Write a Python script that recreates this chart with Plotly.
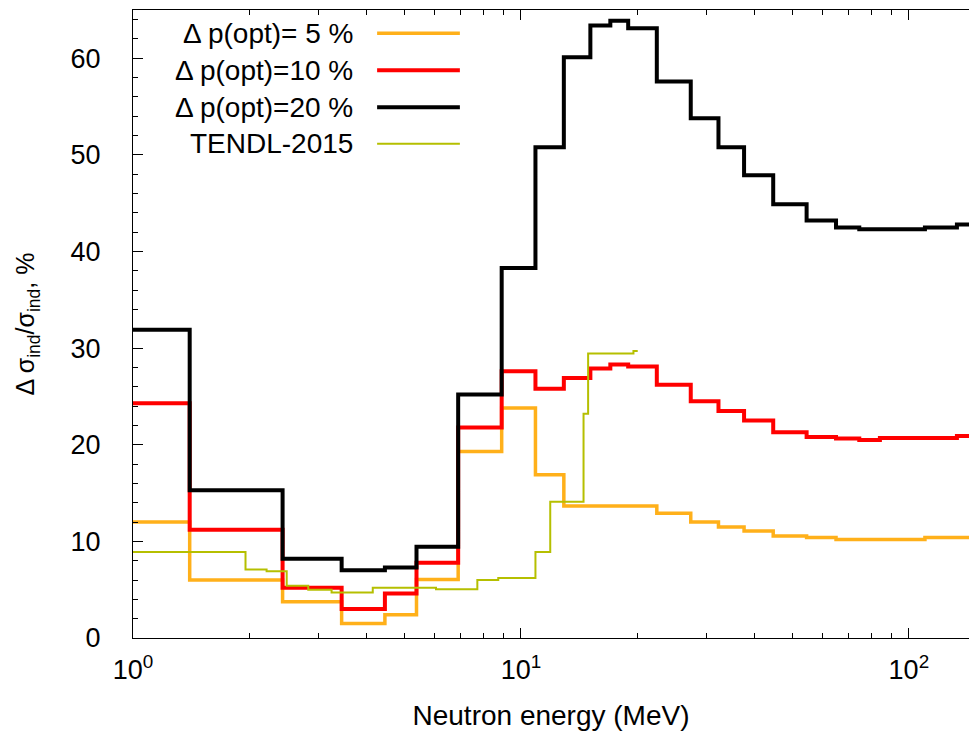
import plotly.graph_objects as go

# Group boundaries (MeV) shared by the three Delta p(opt) curves
edges = [1.0, 1.40, 2.43, 3.45, 4.46, 5.38, 6.89, 8.92, 10.9, 12.9, 15.1, 17.0,
         18.9, 22.4, 27.4, 32.3, 37.6, 44.7, 54.5, 64.9, 74.5, 84.2, 110, 133, 160]

# Relative uncertainty of the induced cross section (%) per group
dp5 = [12.0, 6.0, 3.75, 1.5, 2.4, 6.05, 19.3, 23.8, 16.9, 13.65, 13.65, 13.65,
       13.65, 12.9, 12.0, 11.5, 11.07, 10.55, 10.4, 10.2, 10.2, 10.2, 10.4, 10.4]
dp10 = [24.3, 11.2, 5.2, 3.0, 4.6, 7.8, 21.8, 27.6, 25.8, 26.9, 27.9, 28.3,
        28.1, 26.2, 24.5, 23.5, 22.5, 21.3, 20.8, 20.65, 20.5, 20.7, 20.7, 20.9]
dp20 = [31.9, 15.3, 8.2, 7.0, 7.3, 9.45, 25.2, 38.3, 50.8, 60.1, 63.4, 63.9,
        63.1, 57.6, 53.8, 50.8, 47.9, 44.9, 43.2, 42.5, 42.3, 42.3, 42.5, 42.8]

# TENDL-2015 evaluation on its own energy grid
tendl_edges = [1.0, 1.95, 2.21, 2.49, 2.83, 3.25, 4.15, 6.04, 7.72, 8.74, 10.9,
               11.9, 14.5, 14.9, 19.5, 20.0]
tendl = [8.9, 7.1, 6.9, 5.4, 5.0, 4.7, 5.2, 5.05, 6.0, 6.2, 8.9, 14.1, 23.2,
         29.45, 29.7]

legend_labels = ["\u0394 p(opt)= 5 %", "\u0394 p(opt)=10 %", "\u0394 p(opt)=20 %", "TENDL-2015"]

FONT = "Liberation Sans, Arial, sans-serif"

series = [
    (edges, dp5, "#ffb01a", 3.5),
    (edges, dp10, "#ff0000", 4),
    (edges, dp20, "#000000", 4),
    (tendl_edges, tendl, "#b5bf00", 2),
]

fig = go.Figure()
for (xe, vals, color, width), name in zip(series, legend_labels):
    fig.add_trace(go.Scatter(
        x=xe, y=list(vals) + [vals[-1]], mode="lines", name=name,
        line=dict(color=color, width=width, shape="hv"), showlegend=False,
    ))

# Key: right-aligned labels followed by a short line sample
row_y = [0.963, 0.904, 0.845, 0.787]
for (xe, vals, color, width), name, ry in zip(series, legend_labels, row_y):
    fig.add_annotation(x=0.266, y=ry, xref="paper", yref="paper", text=name,
                       showarrow=False, xanchor="right", yanchor="middle",
                       font=dict(family=FONT, size=28, color="black"))
    fig.add_shape(type="line", xref="paper", yref="paper", x0=0.292, x1=0.391,
                  y0=ry, y1=ry, line=dict(color=color, width=width))

fig.update_layout(
    width=969, height=738,
    margin=dict(l=133, r=0, t=10, b=100),
    paper_bgcolor="white", plot_bgcolor="white",
    font=dict(family=FONT, size=27, color="black"),
)
fig.update_xaxes(
    type="log", range=[0, 2.155],
    tickmode="array", tickvals=[1, 10, 100],
    ticktext=["10<sup>0</sup>", "10<sup>1</sup>", "10<sup>2</sup>"],
    ticks="inside", ticklen=10, tickwidth=1, tickcolor="black",
    minor=dict(ticks="inside", ticklen=5, tickcolor="black",
               tickvals=[2, 3, 4, 5, 6, 7, 8, 9, 20, 30, 40, 50, 60, 70, 80, 90]),
    showline=True, linecolor="black", linewidth=1, mirror="ticks",
    showgrid=False, zeroline=False, ticklabelstandoff=8,
    title=dict(text="Neutron energy (MeV)", standoff=20,
               font=dict(family=FONT, size=28)),
)
fig.update_yaxes(
    range=[0, 65], tickmode="linear", tick0=0, dtick=10,
    ticks="inside", ticklen=10, tickwidth=1, tickcolor="black",
    minor=dict(ticks="inside", ticklen=5, tickcolor="black", dtick=2),
    showline=True, linecolor="black", linewidth=1,
    showgrid=False, zeroline=False, ticklabelstandoff=26,
    title=dict(text="\u0394 \u03c3<sub>ind</sub>/\u03c3<sub>ind</sub>, %",
               standoff=28, font=dict(family=FONT, size=25)),
)

fig.write_html("out.html")
